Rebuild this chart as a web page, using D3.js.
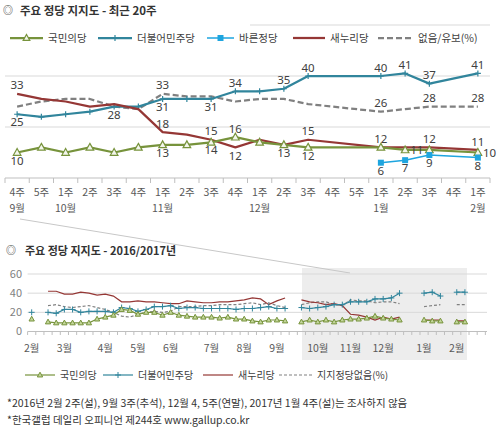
<!DOCTYPE html>
<html><head><meta charset="utf-8">
<script src="https://cdn.jsdelivr.net/npm/d3@7"></script>
<style>
html,body{margin:0;padding:0;background:#fff;}
svg{display:block;font-family:"Noto Sans CJK KR","Noto Sans",sans-serif;}
</style></head><body>
<svg id="c" width="499" height="430"></svg>
<script>
// ===== Top chart: 최근 20주 =====
const weekLabels = ["4주","5주","1주","2주","3주","4주","1주","2주","3주","4주","1주","2주","3주","4주","5주","1주","2주","3주","4주","1주"];
const monthLabels = ["9월","","10월","","","","11월","","","","12월","","","","","1월","","","","2월"];
const kukminRecent  = [10,12,10,12,10,12,13,13,14,16,14,13,12,null,null,12,11,11,null,10];
const minjooRecent  = [25,24,25,26,28,28,31,31,31,34,34,35,40,null,null,40,41,37,null,41];
const bareunRecent  = [null,null,null,null,null,null,null,null,null,null,null,null,null,null,null,6,7,9,null,8];
const saenuriRecent = [33,31,30,28,29,27,18,17,15,12,15,13,15,null,null,12,12,12,null,11];
const noneRecent    = [28,30,31,31,28,27,33,32,32,30,31,31,29,null,null,26,27,28,null,28];
const recentTicks = [0,20,40,60];

// ===== Bottom chart: 2016/2017 (weekly, index 0 = 2016년 2월 1주) =====
const monthTickLabels = ["2월","3월","4월","5월","6월","7월","8월","9월","10월","11월","12월","1월","2월"];
const monthTickWeeks  = [0,4,9,13,17,22,26,30,35,39,43,48,52];
const yearTicks = [0,20,40,60];
const kukminYear  = [13,null,10,9,9,9,9,9,13,15,17,23,22,18,20,20,17,20,17,16,15,15,15,14,15,13,13,11,10,12,12,11,null,
                     10,12,10,12,10,12,13,13,14,16,14,13,12,null,null,12,11,11,null,10,10];
const minjooYear  = [20,null,20,19,23,23,20,21,21,21,20,25,24,21,23,26,26,27,24,25,25,24,24,24,24,23,24,24,25,26,24,24,null,
                     25,24,25,26,28,28,31,31,31,34,34,35,40,null,null,40,41,37,null,41,41];
const saenuriYear = [null,null,42,42,39,39,41,40,38,39,37,31,31,32,31,31,30,29,29,32,31,30,30,31,31,32,33,35,34,28,32,35,null,
                     33,31,30,28,29,27,18,17,15,12,15,13,15,null,null,12,12,12,null,11,11];
const noneYear    = [null,null,27,28,26,25,26,27,25,23,20,16,15,18,20,21,20,21,26,26,26,27,27,28,28,28,29,30,28,30,27,25,null,
                     28,30,31,31,28,27,33,32,32,30,31,31,29,null,null,26,27,28,null,28,28];

// ===== styles =====
const C = {green:"#77933c", teal:"#31859c", blue:"#1ea5df", red:"#953735", gray:"#808080",
           grid:"#d9d9d9", axis:"#bfbfbf", text:"#404040", axisText:"#595959"};

const svg = d3.select("#c");

// ---------- TOP CHART ----------
const xTop = d3.scaleBand().domain(d3.range(weekLabels.length)).range([5, 490]);
const cx = i => xTop(i) + xTop.bandwidth()/2;
const yTop = d3.scaleLinear().domain([0,60]).range([178,25]);

const gTop = svg.append("g");
gTop.selectAll("line.grid").data(recentTicks.filter(t=>t>0)).join("line")
  .attr("x1",5).attr("x2",490).attr("y1",d=>yTop(d)).attr("y2",d=>yTop(d))
  .attr("stroke",C.grid).attr("stroke-width",1);
// title background (covers left part of top gridline)
gTop.append("rect").attr("x",0).attr("y",0).attr("width",250).attr("height",31).attr("fill","#fff");
gTop.append("text").attr("x",3).attr("y",14).attr("font-size",10).attr("fill","#333").text("◎");
gTop.append("text").attr("x",20).attr("y",15).attr("font-size",11.5).attr("font-weight","bold").attr("fill","#333")
  .text("주요 정당 지지도 - 최근 20주");

// axis
gTop.append("line").attr("x1",5).attr("x2",490).attr("y1",yTop(0)).attr("y2",yTop(0)).attr("stroke",C.axis);
gTop.selectAll("line.tk").data(d3.range(weekLabels.length+1)).join("line")
  .attr("x1",i=>i<weekLabels.length?xTop(i):490).attr("x2",i=>i<weekLabels.length?xTop(i):490)
  .attr("y1",yTop(0)).attr("y2",yTop(0)+5).attr("stroke",C.axis);
gTop.selectAll("text.wk").data(weekLabels).join("text")
  .attr("x",(d,i)=>cx(i)).attr("y",196).attr("text-anchor","middle").attr("font-size",10.5)
  .attr("fill",C.axisText).text(d=>d);
gTop.selectAll("text.mo").data(monthLabels).join("text")
  .attr("x",(d,i)=>cx(i)).attr("y",212).attr("text-anchor","middle").attr("font-size",10.5)
  .attr("fill",C.axisText).text(d=>d);

function markerPath(type, s){
  if(type==="tri") return `M0,${-s}L${s*0.95},${s*0.7}L${-s*0.95},${s*0.7}Z`;
  if(type==="plus") return `M${-s},0H${s}M0,${-s}V${s}`;
  if(type==="sq") return `M${-s},${-s}H${s}V${s}H${-s}Z`;
  return "";
}

const topSeries = [
  {vals:noneRecent, color:C.gray, dash:"6,3", marker:null},
  {vals:minjooRecent, color:C.teal, marker:"plus"},
  {vals:saenuriRecent, color:C.red, marker:null},
  {vals:kukminRecent, color:C.green, marker:"tri"},
  {vals:bareunRecent, color:C.blue, width:1.5, marker:"sq"}
];
const lineTop = d3.line().x(d=>cx(d.i)).y(d=>yTop(d.v));
topSeries.forEach(s=>{
  const pts = s.vals.map((v,i)=>({i,v})).filter(d=>d.v!=null);
  gTop.append("path").attr("d",lineTop(pts)).attr("fill","none").attr("stroke",s.color)
    .attr("stroke-width",s.width||2.25).attr("stroke-dasharray",s.dash||null).attr("stroke-linejoin","round");
  if(s.marker){
    gTop.selectAll(null).data(pts).join("path")
      .attr("transform",d=>`translate(${cx(d.i)},${yTop(d.v)})`)
      .attr("d",markerPath(s.marker, s.marker==="tri"?4:3))
      .attr("fill", s.marker==="tri" ? "#f3f6ec" : (s.marker==="sq"? s.color : "none"))
      .attr("stroke",s.color).attr("stroke-width",s.marker==="sq"?0:1.2);
  }
});

// data labels (index:placement)
const labelPlan = [
  {vals:minjooRecent, at:{0:"b",4:"b",6:"b",8:"b",9:"a",11:"a",12:"a",15:"a",16:"a",17:"a",19:"a"}},
  {vals:noneRecent, at:{6:"a",15:"a",17:"a",19:"a"}},
  {vals:saenuriRecent, at:{0:"a",6:"a",8:"a",9:"b",12:"a",15:"a",17:"a",19:"a"}},
  {vals:kukminRecent, at:{0:"b",6:"b",8:"b",9:"a",11:"b",12:"b",16:"r",19:"r"}},
  {vals:bareunRecent, at:{15:"b",16:"b",17:"b",19:"b"}}
];
labelPlan.forEach(p=>{
  const items = Object.entries(p.at).map(([i,pos])=>({i:+i,pos,v:p.vals[+i]}));
  gTop.selectAll(null).data(items).join("text")
    .attr("x",d=>d.pos==="r"?cx(d.i)+5:cx(d.i))
    .attr("y",d=>yTop(d.v)+(d.pos==="a"?-8.5:d.pos==="b"?8:0))
    .attr("dy","0.36em")
    .attr("text-anchor",d=>d.pos==="r"?"start":"middle")
    .attr("font-family","'Noto Sans',sans-serif")
    .attr("font-size",11.5).attr("fill",C.text).text(d=>d.v);
});

// top legend
const legTop = [
  {x:10, w:33, color:C.green, marker:"tri", label:"국민의당"},
  {x:98, w:34, color:C.teal, marker:"plus", label:"더불어민주당"},
  {x:207, w:27, color:C.blue, marker:"sq", label:"바른정당", width:1.5},
  {x:293, w:32, color:C.red, marker:null, label:"새누리당"},
  {x:378, w:35, color:C.gray, marker:null, dash:"6,3", label:"없음/유보(%)"}
];
legTop.forEach(l=>{
  const g = svg.append("g").attr("transform",`translate(${l.x},38)`);
  g.append("line").attr("x1",0).attr("x2",l.w).attr("stroke",l.color).attr("stroke-width",l.width||2.25)
    .attr("stroke-dasharray",l.dash||null);
  if(l.marker) g.append("path").attr("transform",`translate(${l.w/2},0)`).attr("d",markerPath(l.marker,l.marker==="tri"?3.5:3))
    .attr("fill", l.marker==="tri" ? "#f3f6ec" : (l.marker==="sq"? l.color : "none"))
    .attr("stroke",l.color).attr("stroke-width",l.marker==="sq"?0:1.2);
  g.append("text").attr("x",l.w+5).attr("dy","0.36em").attr("font-size",10.5).attr("fill",C.text).text(l.label);
});

// ---------- connector line & shade ----------
svg.append("rect").attr("x",302).attr("y",268).attr("width",165).attr("height",92).attr("fill","#ededed");
svg.append("line").attr("x1",20).attr("y1",219).attr("x2",350).attr("y2",273).attr("stroke","#c8c8c8").attr("stroke-width",1);

// ---------- BOTTOM CHART ----------
const xBot = d3.scaleLinear().domain([-0.5,55.7]).range([27.6,487]);
const yBot = d3.scaleLinear().domain([0,60]).range([331.5,274]);
const gB = svg.append("g");
gB.append("text").attr("x",6).attr("y",254).attr("font-size",10).attr("fill","#333").text("◎");
gB.append("text").attr("x",25).attr("y",255).attr("font-size",11).attr("font-weight","bold").attr("fill","#333")
  .text("주요 정당 지지도 - 2016/2017년");
gB.selectAll("line.g").data(yearTicks.filter(t=>t>0)).join("line")
  .attr("x1",27.6).attr("x2",487).attr("y1",d=>yBot(d)).attr("y2",d=>yBot(d)).attr("stroke",C.grid);
gB.selectAll("text.y").data(yearTicks).join("text")
  .attr("x",22).attr("y",d=>yBot(d)).attr("dy","0.36em").attr("text-anchor","end")
  .attr("font-size",11).attr("fill","#7f7f7f").text(d=>d);
gB.append("line").attr("x1",27.6).attr("x2",487).attr("y1",yBot(0)).attr("y2",yBot(0)).attr("stroke",C.axis);
gB.selectAll("line.t").data(d3.range(-0.5,55.6,1)).join("line")
  .attr("x1",d=>xBot(d)).attr("x2",d=>xBot(d)).attr("y1",yBot(0)).attr("y2",yBot(0)+3.5).attr("stroke",C.axis);
gB.selectAll("text.m").data(monthTickLabels).join("text")
  .attr("x",(d,i)=>xBot(monthTickWeeks[i])).attr("y",348).attr("dy","0.36em").attr("text-anchor","middle")
  .attr("font-size",10.5).attr("fill",C.axisText).text(d=>d);

const botSeries = [
  {vals:noneYear, color:C.gray, dash:"3,2", marker:null},
  {vals:saenuriYear, color:C.red, marker:null},
  {vals:minjooYear, color:C.teal, marker:"plus"},
  {vals:kukminYear, color:C.green, marker:"tri"}
];
const lineBot = d3.line().defined(d=>d!=null).x((d,i)=>xBot(i)).y(d=>yBot(d));
botSeries.forEach(s=>{
  gB.append("path").attr("d",lineBot(s.vals)).attr("fill","none").attr("stroke",s.color)
    .attr("stroke-width",1.2).attr("stroke-dasharray",s.dash||null);
  if(s.marker){
    const pts = s.vals.map((v,i)=>({i,v})).filter(d=>d.v!=null);
    gB.selectAll(null).data(pts).join("path")
      .attr("transform",d=>`translate(${xBot(d.i)},${yBot(d.v)})`)
      .attr("d",markerPath(s.marker, s.marker==="tri"?2.8:3))
      .attr("fill", s.marker==="tri" ? "#c3d69b" : "none")
      .attr("stroke",s.color).attr("stroke-width",1);
  }
});

// bottom legend
const legBot = [
  {x:25, w:30, color:C.green, marker:"tri", label:"국민의당"},
  {x:103, w:30, color:C.teal, marker:"plus", label:"더불어민주당"},
  {x:203, w:30, color:C.red, marker:null, label:"새누리당"},
  {x:279, w:33, color:C.gray, marker:null, dash:"3,2", label:"지지정당없음(%)"}
];
legBot.forEach(l=>{
  const g = svg.append("g").attr("transform",`translate(${l.x},375)`);
  g.append("line").attr("x1",0).attr("x2",l.w).attr("stroke",l.color).attr("stroke-width",1.2)
    .attr("stroke-dasharray",l.dash||null);
  if(l.marker) g.append("path").attr("transform",`translate(${l.w/2},0)`).attr("d",markerPath(l.marker,l.marker==="tri"?2.8:3))
    .attr("fill", l.marker==="tri" ? "#c3d69b" : "none").attr("stroke",l.color).attr("stroke-width",1);
  g.append("text").attr("x",l.w+5).attr("dy","0.36em").attr("font-size",10).attr("fill",C.text).text(l.label);
});

// footnotes
svg.append("text").attr("x",7).attr("y",403).attr("dy","0.36em").attr("font-size",10.5).attr("fill","#333")
  .text("*2016년 2월 2주(설), 9월 3주(추석), 12월 4, 5주(연말), 2017년 1월 4주(설)는 조사하지 않음");
svg.append("text").attr("x",7).attr("y",420).attr("dy","0.36em").attr("font-size",10.5).attr("fill","#333")
  .text("*한국갤럽 데일리 오피니언 제244호 www.gallup.co.kr");
</script>
</body></html>
